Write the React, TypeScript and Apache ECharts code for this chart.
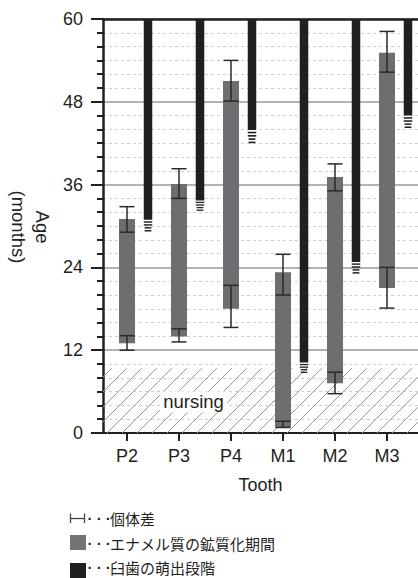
import React, { useEffect, useRef } from "react";
import * as echarts from "echarts";

const teeth = ["P2", "P3", "P4", "M1", "M2", "M3"];
// enamel mineralization period (months)
const enamelStart = [13, 14, 18, 0.8, 7.2, 21];
const enamelEnd = [31, 36.1, 51, 23.3, 37.1, 55.1];
// individual variation around start / end
const startErrLow = [12, 13.2, 15.3, 0.8, 5.7, 18.1];
const startErrHigh = [14.1, 15.1, 21.4, 1.7, 8.8, 24];
const endErrLow = [29.1, 34, 48.1, 20, 35.1, 52.3];
const endErrHigh = [32.8, 38.3, 54, 25.9, 39, 58.2];
// eruption stage (solid from eruptionStart upward, fading to eruptionFade)
const eruptionStart = [30.9, 33.7, 43.9, 10.2, 24.8, 46];
const eruptionFade = [29.2, 32.2, 42, 8.7, 23.1, 44.2];
const eruptionTop = [60, 60, 60, 60, 60, 60];
const nursingEnd = 9.4;
const nursingLabelPos = [1.28, 4.5];
const yMin = 0;
const yMax = 60;
const yInterval = 12;

const legendItems = ["個体差", "エナメル質の鉱質化期間", "臼歯の萌出段階"];

const DARK = "#231f20";
const GRAY = "#6d6e71";
const LATIN = "'Liberation Sans', Arial, Helvetica, sans-serif";
const CJK = "'Noto Sans CJK JP', 'Noto Sans', sans-serif";

const X_MIN = -24 / 52;
const X_MAX = 291 / 52;
const ERUPT_OFFSET = 21 / 52;

export default function App() {
  const ref = useRef<HTMLDivElement>(null);

  useEffect(() => {
    if (!ref.current) return;
    const chart = echarts.init(ref.current, undefined, { renderer: "svg" });

    const enamelData = teeth.map((_, i) => [
      i,
      enamelStart[i],
      enamelEnd[i],
      startErrLow[i],
      startErrHigh[i],
      endErrLow[i],
      endErrHigh[i],
    ]);
    const eruptData = teeth.map((_, i) => [i, eruptionStart[i], eruptionFade[i], eruptionTop[i]]);

    const errBar = (api: any, x: number, lo: number, hi: number) => {
      const a = api.coord([x, lo]);
      const b = api.coord([x, hi]);
      const st = { stroke: "#2a2a2a", lineWidth: 1.5 };
      const cw = 7.5;
      return [
        { type: "line", shape: { x1: a[0], y1: a[1], x2: b[0], y2: b[1] }, style: st },
        { type: "line", shape: { x1: a[0] - cw, y1: a[1], x2: a[0] + cw, y2: a[1] }, style: st },
        { type: "line", shape: { x1: b[0] - cw, y1: b[1], x2: b[0] + cw, y2: b[1] }, style: st },
      ];
    };

    const option: any = {
      animation: false,
      grid: { left: 103, right: 0, top: 19, bottom: 145, containLabel: false },
      xAxis: [
        {
          type: "value",
          min: X_MIN,
          max: X_MAX,
          axisLine: { show: true, onZero: false, lineStyle: { color: DARK, width: 2 } },
          axisTick: {
            show: true,
            customValues: [0, 1, 2, 3, 4, 5],
            length: 8,
            lineStyle: { color: DARK, width: 2 },
          },
          axisLabel: {
            customValues: [0, 1, 2, 3, 4, 5],
            formatter: (v: number) => teeth[Math.round(v)] ?? "",
            margin: 14,
            color: DARK,
            fontSize: 18,
            fontFamily: LATIN,
          },
          splitLine: { show: false },
          name: "Tooth",
          nameLocation: "middle",
          nameGap: 43,
          nameTextStyle: { color: DARK, fontSize: 18, fontFamily: LATIN },
        },
        {
          type: "value",
          position: "top",
          min: X_MIN,
          max: X_MAX,
          axisLine: { show: true, onZero: false, lineStyle: { color: DARK, width: 2.5 } },
          axisTick: { show: false },
          axisLabel: { show: false },
          splitLine: { show: false },
        },
      ],
      yAxis: {
        type: "value",
        min: yMin,
        max: yMax,
        interval: yInterval,
        axisLine: { show: true, onZero: false, lineStyle: { color: DARK, width: 2.5 } },
        axisTick: { show: true, length: 12, lineStyle: { color: DARK, width: 2 } },
        minorTick: { show: true, splitNumber: 6, length: 6, lineStyle: { color: DARK, width: 2 } },
        axisLabel: { margin: 20, color: DARK, fontSize: 18, fontFamily: LATIN },
        splitLine: { show: true, lineStyle: { color: "#b3b3b3", width: 2 } },
        minorSplitLine: { show: true, lineStyle: { color: "#cfcfcf", width: 1, type: [3, 3] } },
      },
      series: [
        {
          type: "custom",
          name: "nursing",
          data: [[X_MIN, nursingEnd]],
          encode: { x: 0, y: 1 },
          renderItem: (params: any, api: any) => {
            const cs = params.coordSys;
            const L = cs.x;
            const R = cs.x + cs.width;
            const B = cs.y + cs.height;
            const T = api.coord([X_MIN, api.value(1)])[1];
            const H = B - T;
            const children: any[] = [];
            const step = 15;
            let c = 2 + step * Math.floor((L - H - 2) / step);
            for (; c < R; c += step) {
              const t0 = Math.max(0, L - c);
              const t1 = Math.min(H, R - c);
              if (t0 < t1) {
                children.push({
                  type: "line",
                  shape: { x1: c + t0, y1: B - t0, x2: c + t1, y2: B - t1 },
                  style: { stroke: "#9a9a9a", lineWidth: 1 },
                });
              }
            }
            const lp = api.coord(nursingLabelPos);
            children.push({
              type: "text",
              x: lp[0],
              y: lp[1],
              style: {
                text: "nursing",
                fill: DARK,
                fontSize: 18.5,
                fontFamily: LATIN,
                align: "center",
                verticalAlign: "middle",
                backgroundColor: "#ffffff",
                padding: [1, 3],
              },
            });
            return { type: "group", children };
          },
          z: 1,
        },
        {
          type: "custom",
          name: "enamel",
          data: enamelData,
          encode: { x: 0, y: [1, 2] },
          renderItem: (params: any, api: any) => {
            const x = api.value(0);
            const top = api.coord([x, api.value(2)]);
            const bot = api.coord([x, api.value(1)]);
            const w = 16;
            const children: any[] = [
              {
                type: "rect",
                shape: { x: top[0] - w / 2, y: top[1], width: w, height: bot[1] - top[1] },
                style: { fill: GRAY },
              },
              ...errBar(api, x, api.value(3), api.value(4)),
              ...errBar(api, x, api.value(5), api.value(6)),
            ];
            return { type: "group", children };
          },
          z: 2,
        },
        {
          type: "custom",
          name: "eruption",
          data: eruptData,
          encode: { x: 0, y: [1, 3] },
          renderItem: (params: any, api: any) => {
            const x = api.value(0) + ERUPT_OFFSET;
            const top = api.coord([x, api.value(3)]);
            const s = api.coord([x, api.value(1)]);
            const f = api.coord([x, api.value(2)]);
            const w = 8.5;
            const children: any[] = [
              {
                type: "rect",
                shape: { x: top[0] - w / 2, y: top[1], width: w, height: s[1] - top[1] },
                style: { fill: DARK },
              },
            ];
            const total = f[1] - s[1];
            const h = total / 8;
            for (let k = 0; k < 4; k++) {
              const ww = k < 2 ? w : w * 0.8;
              children.push({
                type: "rect",
                shape: { x: s[0] - ww / 2, y: s[1] + h * (2 * k + 1), width: ww, height: h },
                style: { fill: DARK },
              });
            }
            return { type: "group", children };
          },
          z: 3,
        },
      ],
      graphic: [
        {
          type: "text",
          x: 30.5,
          y: 227,
          rotation: -Math.PI / 2,
          style: {
            text: "Age\n(months)",
            fill: DARK,
            fontSize: 18.5,
            fontFamily: LATIN,
            align: "center",
            verticalAlign: "middle",
            lineHeight: 24.5,
          },
        },
        // legend: individual variation icon
        { type: "line", shape: { x1: 70.5, y1: 518.5, x2: 84.5, y2: 518.5 }, style: { stroke: "#444", lineWidth: 1.3 } },
        { type: "line", shape: { x1: 70.5, y1: 513.5, x2: 70.5, y2: 523 }, style: { stroke: "#444", lineWidth: 1.3 } },
        { type: "line", shape: { x1: 84.5, y1: 513.5, x2: 84.5, y2: 523 }, style: { stroke: "#444", lineWidth: 1.3 } },
        { type: "rect", shape: { x: 70, y: 535, width: 16, height: 15 }, style: { fill: "#737375" } },
        { type: "rect", shape: { x: 70, y: 563, width: 16, height: 15 }, style: { fill: DARK } },
        ...[518, 543, 567].flatMap((cy, i) => [
          {
            type: "text",
            x: 87.5,
            y: cy,
            style: {
              text: "· · ·",
              fill: DARK,
              fontSize: 15,
              fontWeight: "bold",
              fontFamily: LATIN,
              align: "left",
              verticalAlign: "middle",
            },
          },
          {
            type: "text",
            x: 110,
            y: cy,
            style: {
              text: legendItems[i],
              fill: DARK,
              fontSize: 15,
              fontFamily: CJK,
              align: "left",
              verticalAlign: "middle",
            },
          },
        ]),
      ],
    };

    chart.setOption(option);
    return () => chart.dispose();
  }, []);

  return (
    <div
      ref={ref}
      style={{ position: "absolute", left: 0, top: 0, width: 418, height: 578, background: "#fff" }}
    />
  );
}
